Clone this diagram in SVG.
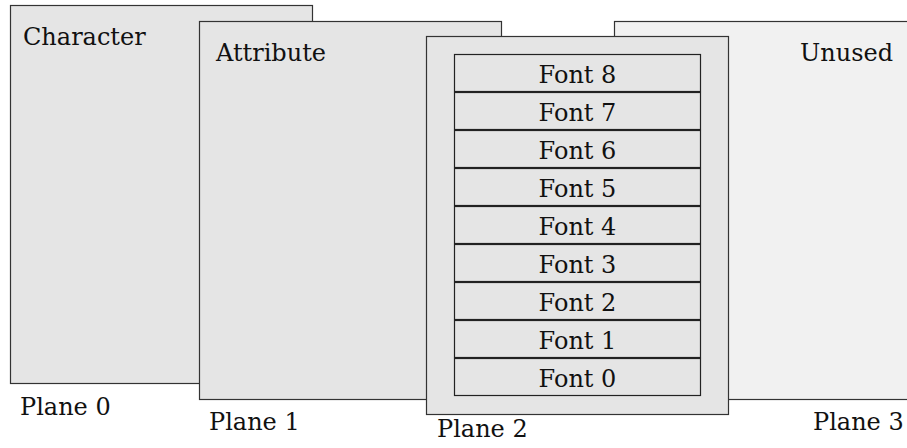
<svg xmlns="http://www.w3.org/2000/svg" width="907" height="448" viewBox="0 0 907 448">
  <style>
    .plane { fill: #e5e5e5; stroke: #333333; stroke-width: 1.2; }
    .plane.light { fill: #f1f1f1; }
    .font { fill: #e5e5e5; stroke: #222222; stroke-width: 1.2; }
    text { font-family: "DejaVu Serif", "Liberation Serif", serif; font-size: 24px; fill: #111111; }
    .mid { text-anchor: middle; }
  </style>
  <rect width="907" height="448" fill="#ffffff"/>

  <g id="plane0">
    <rect class="plane" x="10.5" y="5.5" width="302" height="378"/>
    <text x="23" y="45">Character</text>
    <text x="20" y="415">Plane 0</text>
  </g>

  <g id="plane1">
    <rect class="plane" x="199.5" y="21.5" width="302" height="378"/>
    <text x="216" y="61">Attribute</text>
    <text x="209" y="430">Plane 1</text>
  </g>

  <g id="plane3">
    <rect class="plane light" x="614.5" y="21.5" width="310" height="378"/>
    <text x="800" y="61">Unused</text>
    <text x="813" y="430">Plane 3</text>
  </g>

  <g id="plane2">
    <rect class="plane" x="426.5" y="36.5" width="302" height="378"/>
    <text x="437" y="437">Plane 2</text>
  </g>

  <g id="font8"><rect class="font" x="454.5" y="54.5" width="246" height="37"/><text class="mid" x="577.5" y="83">Font 8</text></g>
  <g id="font7"><rect class="font" x="454.5" y="92.5" width="246" height="37"/><text class="mid" x="577.5" y="121">Font 7</text></g>
  <g id="font6"><rect class="font" x="454.5" y="130.5" width="246" height="37"/><text class="mid" x="577.5" y="159">Font 6</text></g>
  <g id="font5"><rect class="font" x="454.5" y="168.5" width="246" height="37"/><text class="mid" x="577.5" y="197">Font 5</text></g>
  <g id="font4"><rect class="font" x="454.5" y="206.5" width="246" height="37"/><text class="mid" x="577.5" y="235">Font 4</text></g>
  <g id="font3"><rect class="font" x="454.5" y="244.5" width="246" height="37"/><text class="mid" x="577.5" y="273">Font 3</text></g>
  <g id="font2"><rect class="font" x="454.5" y="282.5" width="246" height="37"/><text class="mid" x="577.5" y="311">Font 2</text></g>
  <g id="font1"><rect class="font" x="454.5" y="320.5" width="246" height="37"/><text class="mid" x="577.5" y="349">Font 1</text></g>
  <g id="font0"><rect class="font" x="454.5" y="358.5" width="246" height="37"/><text class="mid" x="577.5" y="387">Font 0</text></g>

  <g id="connectors"></g>
</svg>
